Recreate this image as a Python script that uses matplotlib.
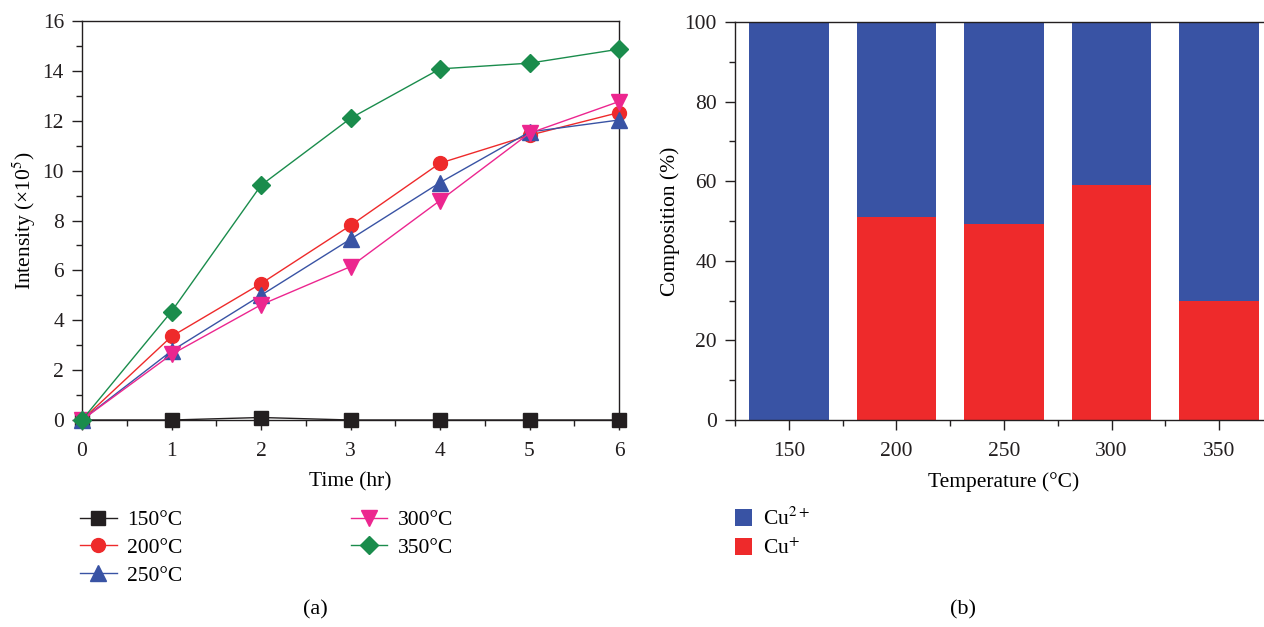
import matplotlib
matplotlib.use('Agg')
import matplotlib.pyplot as plt
from matplotlib.ticker import MultipleLocator, FixedLocator

plt.rcParams['font.family'] = ['Liberation Serif', 'DejaVu Serif']
plt.rcParams['mathtext.fontset'] = 'stix'

# panel (a) data
time_hr = [0, 1, 2, 3, 4, 5, 6]
int_150 = [0, 0, 0.1, 0, 0, 0, 0]
int_200 = [0, 3.35, 5.47, 7.8, 10.3, 11.42, 12.33]
int_250 = [0, 2.77, 5.0, 7.25, 9.52, 11.55, 12.03]
int_300 = [0, 2.63, 4.62, 6.15, 8.8, 11.5, 12.77]
int_350 = [0, 4.35, 9.41, 12.1, 14.08, 14.31, 14.87]
series_labels = ['150°C', '200°C', '250°C', '300°C', '350°C']

# panel (b) data
temps = [150, 200, 250, 300, 350]
cu_plus = [0, 51.0, 49.3, 59.1, 29.8]
cu_2plus = [100 - v for v in cu_plus]

c_black = '#231f20'
c_red = '#ee2a2b'
c_blue = '#3953a4'
c_pink = '#ec268f'
c_green = '#1a8c4c'

FS = 15.5

fig = plt.figure(figsize=(12.64, 6.27), dpi=100)
W, H = 1264.0, 627.0

# ---- (a) ----
ax1 = fig.add_axes([82 / W, 1 - 420 / H, (619 - 82) / W, (420 - 21) / H])
styles = [(int_150, c_black, 's', 10), (int_200, c_red, 'o', 10),
          (int_250, c_blue, '^', 11), (int_300, c_pink, 'v', 11),
          (int_350, c_green, 'D', 9)]
for (vals, col, mk, ms), lab in zip(styles, series_labels):
    ax1.plot(time_hr, vals, color=col, marker=mk, markersize=ms, lw=1.0,
             label=lab, clip_on=False, zorder=3)
ax1.set_xlim(0, 6)
ax1.set_ylim(0, 16)
ax1.xaxis.set_major_locator(MultipleLocator(1))
ax1.xaxis.set_minor_locator(MultipleLocator(0.5))
ax1.yaxis.set_major_locator(MultipleLocator(2))
ax1.yaxis.set_minor_locator(MultipleLocator(1))
ax1.set_xlabel('Time (hr)', fontsize=FS, labelpad=8)
ax1.set_ylabel('Intensity (×10$^5$)', fontsize=FS, labelpad=3)

# ---- (b) ----
ax2 = fig.add_axes([735 / W, 1 - 420 / H, (1273 - 735) / W, (420 - 22) / H])
ax2.bar(temps, cu_plus, width=37, color=c_red, label='Cu$^{+}$')
ax2.bar(temps, cu_2plus, width=37, bottom=cu_plus, color=c_blue,
        label='Cu$^{2+}$')
ax2.set_xlim(125, 375)
ax2.set_ylim(0, 100)
ax2.set_xticks(temps)
ax2.xaxis.set_minor_locator(FixedLocator([125, 175, 225, 275, 325, 375]))
ax2.yaxis.set_major_locator(MultipleLocator(20))
ax2.yaxis.set_minor_locator(MultipleLocator(10))
ax2.set_xlabel('Temperature (°C)', fontsize=FS, labelpad=8)
ax2.set_ylabel('Composition (%)', fontsize=FS, labelpad=3)

for ax in (ax1, ax2):
    for sp in ax.spines.values():
        sp.set_color(c_black)
        sp.set_linewidth(1.0)
    ax.tick_params(which='both', direction='out', top=False, right=False,
                   colors=c_black, labelsize=FS, width=1.0)
    ax.tick_params(which='major', length=7, pad=6)
    ax.tick_params(which='minor', length=4)
    ax.tick_params(axis='x', which='major', pad=9)

# legends
h1, l1 = ax1.get_legend_handles_labels()
fig.legend(h1, l1, loc='upper left', bbox_to_anchor=(80 / W, 1 - 510 / H),
           ncol=2, frameon=False, fontsize=FS, handlelength=1.7,
           handletextpad=0.5, columnspacing=7.8, labelspacing=0.36,
           borderaxespad=0, borderpad=0)

h2, l2 = ax2.get_legend_handles_labels()
fig.legend(h2[::-1], l2[::-1], loc='upper left',
           bbox_to_anchor=(735 / W, 1 - 508 / H), frameon=False, fontsize=FS,
           handlelength=0.8, handleheight=0.8, handletextpad=0.5,
           labelspacing=0.38, borderaxespad=0, borderpad=0)

fig.text(315 / W, 1 - 610 / H, '(a)', ha='center', va='center', fontsize=16)
fig.text(963 / W, 1 - 610 / H, '(b)', ha='center', va='center', fontsize=16)

fig.savefig('out.png', dpi=100)
